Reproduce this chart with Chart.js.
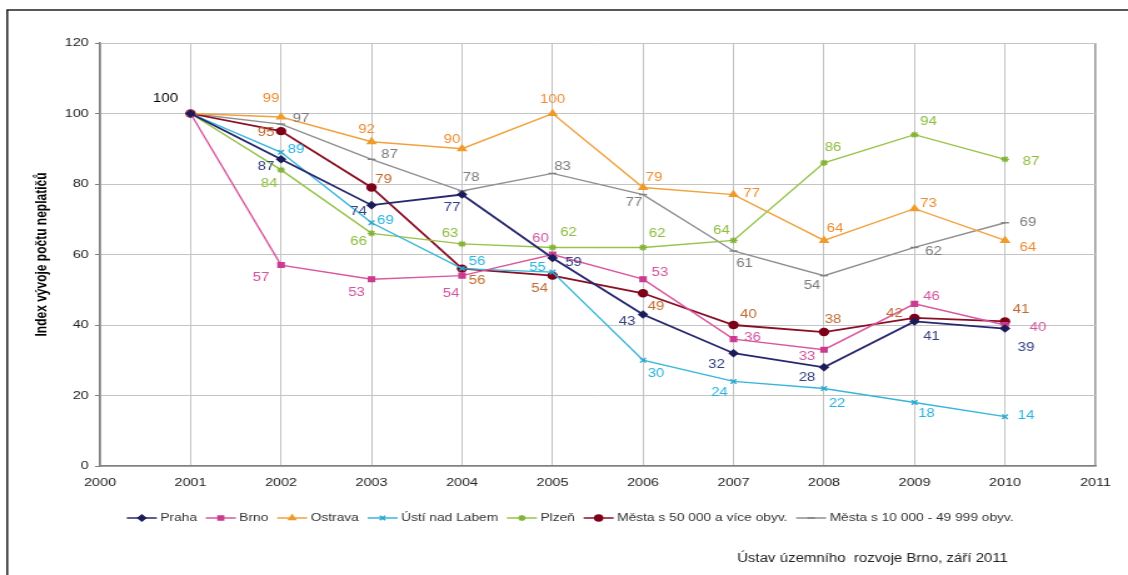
<!DOCTYPE html>
<html>
<head>
<meta charset="utf-8">
<script src="https://cdn.jsdelivr.net/npm/chart.js@4.4.1/dist/chart.umd.min.js"></script>
<style>
  html, body { margin: 0; padding: 0; background: #fff; }
</style>
</head>
<body>
<!-- platno se kresli uzsi a CSS ho roztahne na plnou sirku -->
<canvas id="graf" width="902" height="575" style="display:block;width:1128px;height:575px"></canvas>
<script>
const ROZTAZENI = 1128 / 902;
const PISMO = '"Liberation Sans", Arial, sans-serif';

const roky = [2001, 2002, 2003, 2004, 2005, 2006, 2007, 2008, 2009, 2010];
const nazvy = ['Praha', 'Brno', 'Ostrava', 'Ústí nad Labem', 'Plzeň',
  'Města s 50 000 a více obyv.', 'Města s 10 000 - 49 999 obyv.'];

const praha   = [100, 87, 74, 77, 59, 43, 32, 28, 41, 39];
const brno    = [100, 57, 53, 54, 60, 53, 36, 33, 46, 40];
const ostrava = [100, 99, 92, 90, 100, 79, 77, 64, 73, 64];
const usti    = [100, 89, 69, 56, 55, 30, 24, 22, 18, 14];
const plzen   = [100, 84, 66, 63, 62, 62, 64, 86, 94, 87];
const mesta50 = [100, 95, 79, 56, 54, 49, 40, 38, 42, 41];
const mesta10 = [100, 97, 87, 78, 83, 77, 61, 54, 62, 69];

const osaX = [2000, 2011];
const osaY = [0, 120];

// posun popisku od bodu [dx, dy]
const posunyPopisku = [
  [[-25, -15], [-15, 7], [-13, 7], [-10, 13], [21, 5], [-16, 7], [-17, 11], [-17, 10], [17, 15], [21, 19]],
  [null, [-20, 13], [-15, 14], [-11, 18], [-12, -16], [17, -6], [19, -1], [-17, 7], [17, -7], [33, 3]],
  [null, [-10, -18], [-5, -12], [-10, -9], [0, -14], [11, -10], [18, -1], [11, -12], [14, -5], [23, 7]],
  [null, [15, -3], [14, -2], [15, -7], [-15, -4], [13, 13], [-14, 11], [13, 15], [12, 11], [21, -1]],
  [null, [-12, 14], [-13, 8], [-12, -10], [16, -15], [14, -14], [-12, -10], [9, -15], [14, -13], [26, 2]],
  [null, [-15, 2], [12, -8], [15, 12], [-13, 13], [13, 13], [15, -10], [9, -12], [-20, -4], [16, -12]],
  [null, [20, -5], [18, -5], [9, -13], [10, -7], [-9, 8], [11, 13], [-12, 10], [19, 4], [23, 0]]
];

const rady = [praha, brno, ostrava, usti, plzen, mesta50, mesta10];
const styly = [
  { cara: '#27276e', bod: '#1c1c5a', popis: '#35407f', tvar: 'rectRot', r: 3.3, sirka: 1.8 },
  { cara: '#d9579f', bod: '#cc3b8f', popis: '#d2559f', tvar: 'rect', r: 3.3, sirka: 1.4 },
  { cara: '#f2a23c', bod: '#ef9b2a', popis: '#ee8c30', tvar: 'triangle', r: 3.6, sirka: 1.4 },
  { cara: '#37b6dc', bod: '#2aa8cf', popis: '#2bb3de', tvar: 'crossRot', r: 3.2, sirka: 1.4 },
  { cara: '#96c447', bod: '#84b338', popis: '#8dbd3b', tvar: 'star', r: 3.2, sirka: 1.4 },
  { cara: '#8a0f25', bod: '#7d0019', popis: '#bf6a2e', tvar: 'circle', r: 3.5, sirka: 1.8 },
  { cara: '#8f8f8f', bod: '#808080', popis: '#7b7b7b', tvar: 'line', r: 3.2, sirka: 1.4 }
];

const datasets = rady.map((hodnoty, i) => ({
  label: nazvy[i],
  data: hodnoty.map((v, j) => ({ x: roky[j], y: v })),
  borderColor: styly[i].cara,
  borderWidth: styly[i].sirka,
  backgroundColor: styly[i].bod,
  pointStyle: styly[i].tvar,
  pointRadius: styly[i].r,
  pointBackgroundColor: styly[i].bod,
  pointBorderColor: styly[i].bod,
  pointBorderWidth: 1.4,
  tension: 0,
  popisBarva: styly[i].popis
}));

// ramecek a bile pozadi
const ramecek = {
  id: 'ramecek',
  beforeDraw(chart) {
    const ctx = chart.ctx;
    ctx.save();
    ctx.fillStyle = '#fff';
    ctx.fillRect(0, 0, chart.width, chart.height);
    ctx.strokeStyle = '#222';
    ctx.lineWidth = 1.5;
    ctx.beginPath();
    ctx.moveTo(5.8, chart.height);
    ctx.lineTo(5.8, 10);
    ctx.lineTo(chart.width, 10);
    ctx.stroke();
    ctx.restore();
  }
};

// hodnoty u bodu
const popisky = {
  id: 'popisky',
  afterDatasetsDraw(chart) {
    const ctx = chart.ctx;
    ctx.save();
    ctx.font = '12px ' + PISMO;
    ctx.textAlign = 'center';
    ctx.textBaseline = 'middle';
    chart.data.datasets.forEach((ds, di) => {
      const meta = chart.getDatasetMeta(di);
      meta.data.forEach((pt, i) => {
        const p = posunyPopisku[di][i];
        if (!p) return;
        ctx.fillStyle = i === 0 ? '#000' : ds.popisBarva;
        ctx.fillText(String(ds.data[i].y), pt.x + p[0] / ROZTAZENI, pt.y + p[1]);
      });
    });
    ctx.restore();
  }
};

// legenda pod grafem a zdroj
const legenda = {
  id: 'legenda',
  afterDraw(chart) {
    const ctx = chart.ctx;
    ctx.save();
    ctx.font = '11px ' + PISMO;
    ctx.textBaseline = 'middle';
    const delkaCary = 24, mezera = 2.8, odstup = 7;
    const y = 518;
    const sirky = chart.data.datasets.map(ds => ctx.measureText(ds.label).width);
    const celkem = sirky.reduce((a, w) => a + delkaCary + mezera + w, 0) + odstup * (sirky.length - 1);
    let x = 456 - celkem / 2;
    chart.data.datasets.forEach((ds, i) => {
      ctx.strokeStyle = ds.borderColor;
      ctx.lineWidth = 1.5;
      ctx.beginPath();
      ctx.moveTo(x, y);
      ctx.lineTo(x + delkaCary, y);
      ctx.stroke();
      ctx.fillStyle = ds.pointBackgroundColor;
      ctx.strokeStyle = ds.pointBorderColor;
      Chart.helpers.drawPoint(ctx, {
        pointStyle: ds.pointStyle, radius: 3, rotation: 0, borderWidth: 1.2
      }, x + delkaCary / 2, y);
      ctx.fillStyle = '#333';
      ctx.textAlign = 'left';
      ctx.fillText(ds.label, x + delkaCary + mezera, y);
      x += delkaCary + mezera + sirky[i] + odstup;
    });
    ctx.font = '12px ' + PISMO;
    ctx.textAlign = 'right';
    ctx.fillStyle = '#222';
    ctx.fillText('Ústav územního  rozvoje Brno, září 2011', 806, 559);
    ctx.restore();
  }
};

new Chart(document.getElementById('graf'), {
  type: 'line',
  data: { datasets },
  plugins: [ramecek, popisky, legenda],
  options: {
    responsive: false,
    animation: false,
    layout: { padding: { left: 20, right: 26, top: 43, bottom: 79 } },
    plugins: { legend: { display: false }, tooltip: { enabled: false } },
    elements: { line: { fill: false } },
    scales: {
      x: {
        type: 'linear',
        min: osaX[0],
        max: osaX[1],
        afterFit(scale) { scale.height = 30; },
        grid: {
          color: ctx => ctx.tick && ctx.tick.value === osaX[1] ? '#9a9a9a' : '#c4c4c4',
          lineWidth: ctx => ctx.tick && ctx.tick.value === osaX[1] ? 1.6 : 1,
          drawTicks: false
        },
        border: { color: '#808080', width: 1.5 },
        ticks: {
          stepSize: 1,
          autoSkip: false,
          maxRotation: 0,
          padding: 10,
          color: '#222',
          font: { family: PISMO, size: 11.5 },
          callback: v => String(v)
        }
      },
      y: {
        min: osaY[0],
        max: osaY[1],
        afterFit(scale) { scale.width = 60; },
        grid: { color: '#c4c4c4', lineWidth: 1, tickLength: 4, tickColor: '#808080' },
        border: { color: '#808080', width: 1.5 },
        ticks: {
          stepSize: 20,
          padding: 5,
          color: '#222',
          font: { family: PISMO, size: 11.5 }
        },
        title: {
          display: true,
          text: 'Index vývoje počtu neplatičů',
          color: '#000',
          padding: { top: 6, bottom: 0 },
          font: { family: PISMO, size: 12, weight: 'bold' }
        }
      }
    }
  }
});
</script>
</body>
</html>
